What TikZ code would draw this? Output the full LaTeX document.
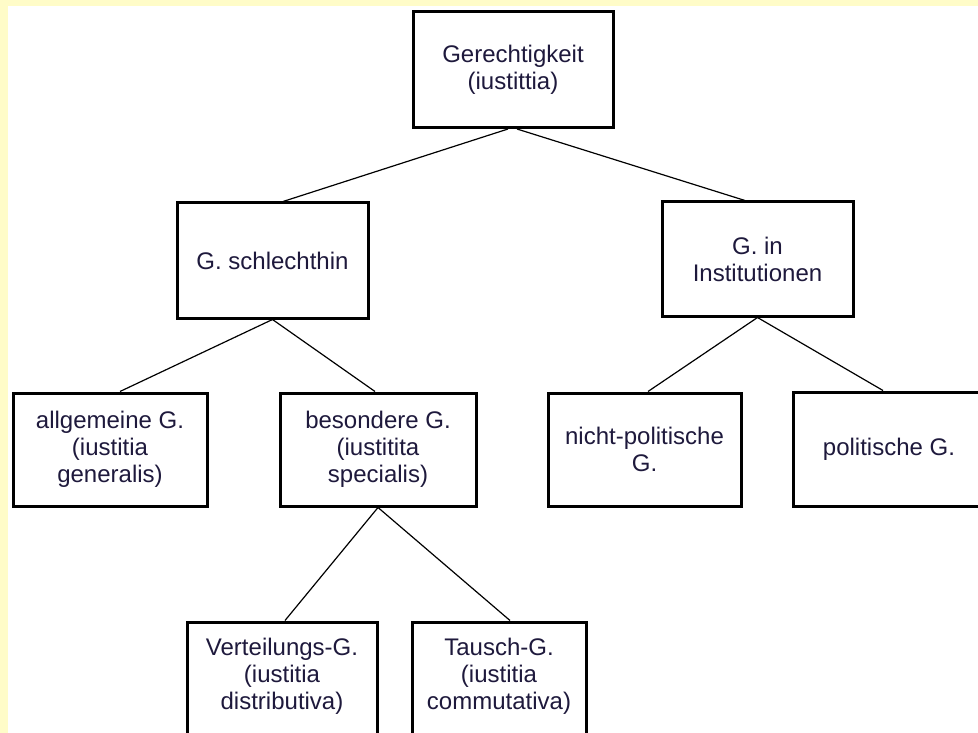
\documentclass[tikz,border=0pt]{standalone}
\usepackage{fontspec}
\setmainfont{Liberation Sans}
\usepackage{tikz}
\definecolor{stripcol}{RGB}{255,252,200}
\definecolor{textcol}{RGB}{30,25,60}
\tikzset{
	boxstyle/.style={rectangle,draw=black,line width=3pt,fill=white,align=center,text=textcol,inner sep=0pt,font=\fontsize{24}{27}\selectfont},
	linkstyle/.style={draw=black,line width=1.2pt}
}

\begin{document}
\begin{tikzpicture}[x=1pt,y=-1pt]
	\useasboundingbox (0,0) rectangle (978,733);
	\clip (0,0) rectangle (978,733);
	\fill[white] (0,0) rectangle (978,733);
	\fill[stripcol] (0,0) rectangle (978,6);
	\fill[stripcol] (0,0) rectangle (8,733);
	\node[boxstyle,minimum width=200pt,minimum height=116pt] (root) at (513,69.5) {Gerechtigkeit\\(iustittia)};
	\node[boxstyle,minimum width=191pt,minimum height=115pt] (schl) at (272.5,260.5) {G. schlechthin};
	\node[boxstyle,minimum width=191pt,minimum height=114pt] (inst) at (757.5,259) {G. in\\Institutionen};
	\node[boxstyle,minimum width=194pt,minimum height=113pt] (allg) at (110,449.5) {allgemeine G.\\(iustitia\\generalis)};
	\node[boxstyle,minimum width=196pt,minimum height=113pt] (bes) at (378,449.5) {besondere G.\\(iustitita\\specialis)};
	\node[boxstyle,minimum width=193pt,minimum height=113pt] (npol) at (644.5,449.5) {nicht-politische\\G.};
	\node[boxstyle,minimum width=192pt,minimum height=114pt] (pol) at (889,449) {politische G.};
	\node[boxstyle,minimum width=190pt,minimum height=120pt] (vert) at (282,682) {Verteilungs-G.\\(iustitia\\distributiva)\\[-11pt]\mbox{}};
	\node[boxstyle,minimum width=174pt,minimum height=120pt] (tausch) at (499,682) {Tausch-G.\\(iustitia\\commutativa)\\[-11pt]\mbox{}};
	\draw[linkstyle] ([xshift=-5pt]root.south)--([xshift=10.5pt]schl.north);
	\draw[linkstyle] ([xshift=4pt]root.south)--([xshift=-12.5pt]inst.north);
	\draw[linkstyle] (schl.south)--([xshift=10pt]allg.north);
	\draw[linkstyle] (schl.south)--([xshift=-3pt]bes.north);
	\draw[linkstyle] (inst.south)--([xshift=3.5pt]npol.north);
	\draw[linkstyle] (inst.south)--([xshift=-6pt]pol.north);
	\draw[linkstyle] (bes.south)--([xshift=3pt]vert.north);
	\draw[linkstyle] (bes.south)--([xshift=11pt]tausch.north);
\end{tikzpicture}
\end{document}
